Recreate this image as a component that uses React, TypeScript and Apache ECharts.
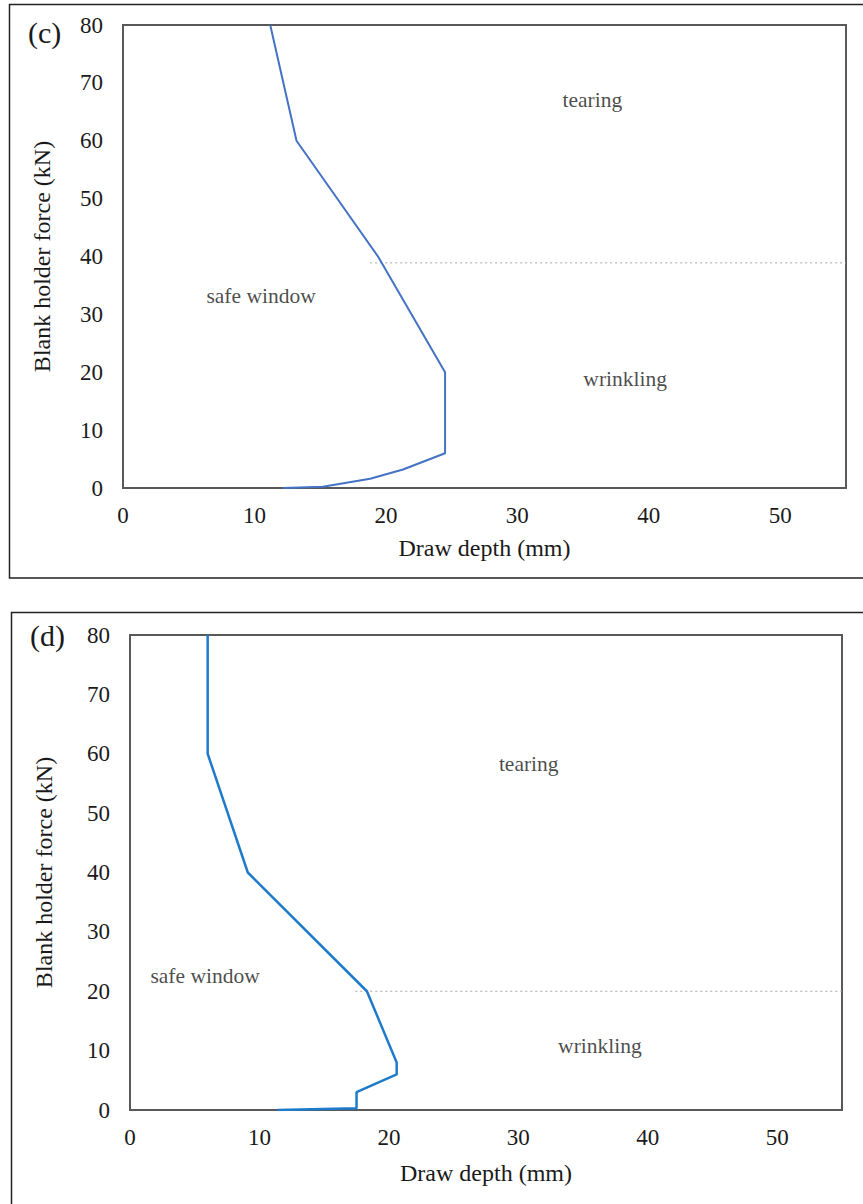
import React, { useEffect, useRef } from "react";
import * as echarts from "echarts";

// Panel (c)
const depthC = [11.2, 13.2, 19.4, 24.5, 24.5, 21.3, 18.8, 15.2, 12.2];
const forceC = [80, 60, 40, 20, 6, 3.2, 1.6, 0.2, 0];
const boundaryC = [[18.8, 38.9], [55, 38.9]];
const notesC = [
  { text: "tearing", x: 35.7, y: 67 },
  { text: "safe window", x: 10.5, y: 33.2 },
  { text: "wrinkling", x: 38.2, y: 18.8 },
];

// Panel (d)
const depthD = [6.0, 6.0, 9.1, 18.3, 20.6, 20.6, 17.5, 17.5, 11.4];
const forceD = [80, 60, 40, 20, 8, 6, 3, 0.3, 0];
const boundaryD = [[17.4, 20], [55, 20]];
const notesD = [
  { text: "tearing", x: 30.8, y: 58.2 },
  { text: "safe window", x: 5.8, y: 22.6 },
  { text: "wrinkling", x: 36.3, y: 10.8 },
];

const xTitle = "Draw depth (mm)";
const yTitle = "Blank holder force (kN)";

const FONT = "'Liberation Serif', 'Times New Roman', serif";
const TXT = "#1a1a1a";

export default function App() {
  const ref = useRef<HTMLDivElement>(null);
  useEffect(() => {
    if (!ref.current) return;
    const chart = echarts.init(ref.current, null, { renderer: "svg" });
    const pair = (xs: number[], ys: number[]) => xs.map((x, i) => [x, ys[i]]);
    const xAxis = (gi: number, gap: number) => ({
      type: "value",
      gridIndex: gi,
      min: 0,
      max: 55,
      interval: 10,
      name: xTitle,
      nameLocation: "middle",
      nameGap: gap,
      nameTextStyle: { fontFamily: FONT, fontSize: 24, color: TXT },
      axisLine: { show: true, lineStyle: { color: "#595959", width: 2 } },
      axisTick: { show: false },
      splitLine: { show: false },
      axisLabel: {
        fontFamily: FONT,
        fontSize: 23,
        color: TXT,
        margin: 16,
        formatter: (v: number) => (v > 50 ? "" : String(v)),
      },
    });
    const yAxis = (gi: number, gap: number) => ({
      type: "value",
      gridIndex: gi,
      min: 0,
      max: 80,
      interval: 10,
      name: yTitle,
      nameLocation: "middle",
      nameGap: gap,
      nameTextStyle: { fontFamily: FONT, fontSize: 24, color: TXT },
      axisLine: { show: true, lineStyle: { color: "#595959", width: 2 } },
      axisTick: { show: false },
      splitLine: { show: false },
      axisLabel: { fontFamily: FONT, fontSize: 23, color: TXT, margin: 20 },
    });
    const notes = (gi: number, arr: { text: string; x: number; y: number }[]) => ({
      type: "scatter",
      xAxisIndex: gi,
      yAxisIndex: gi,
      symbolSize: 1,
      itemStyle: { color: "rgba(0,0,0,0)" },
      silent: true,
      data: arr.map((n) => ({ value: [n.x, n.y], name: n.text })),
      label: {
        show: true,
        position: "inside",
        formatter: (p: any) => p.name,
        fontFamily: FONT,
        fontSize: 21.5,
        color: TXT,
      },
    });
    chart.setOption({
      animation: false,
      backgroundColor: "#fff",
      grid: [
        {
          left: 123, top: 25, width: 723, height: 463,
          show: true, borderColor: "#595959", borderWidth: 2, backgroundColor: "transparent",
        },
        {
          left: 130, top: 635, width: 712, height: 475,
          show: true, borderColor: "#595959", borderWidth: 2, backgroundColor: "transparent",
        },
      ],
      xAxis: [xAxis(0, 48), xAxis(1, 51)],
      yAxis: [yAxis(0, 69), yAxis(1, 74)],
      graphic: [
        {
          type: "rect",
          shape: { x: 9.5, y: 4.5, width: 900, height: 573.5 },
          style: { fill: "none", stroke: "#222", lineWidth: 1.5 },
          silent: true,
        },
        {
          type: "rect",
          shape: { x: 11.5, y: 612.5, width: 900, height: 700 },
          style: { fill: "none", stroke: "#222", lineWidth: 1.5 },
          silent: true,
        },
        {
          type: "text",
          left: 28,
          top: 17,
          style: { text: "(c)", fontFamily: FONT, fontSize: 30, fill: TXT },
        },
        {
          type: "text",
          left: 30,
          top: 620,
          style: { text: "(d)", fontFamily: FONT, fontSize: 30, fill: TXT },
        },
      ],
      series: [
        {
          type: "line",
          xAxisIndex: 0,
          yAxisIndex: 0,
          data: boundaryC,
          symbol: "none",
          silent: true,
          lineStyle: { color: "#a6a6a6", width: 1, type: [2, 3] },
        },
        {
          type: "line",
          xAxisIndex: 0,
          yAxisIndex: 0,
          data: pair(depthC, forceC),
          symbol: "none",
          lineStyle: { color: "#4472C4", width: 2 },
        },
        notes(0, notesC),
        {
          type: "line",
          xAxisIndex: 1,
          yAxisIndex: 1,
          data: boundaryD,
          symbol: "none",
          silent: true,
          lineStyle: { color: "#a6a6a6", width: 1, type: [2, 3] },
        },
        {
          type: "line",
          xAxisIndex: 1,
          yAxisIndex: 1,
          data: pair(depthD, forceD),
          symbol: "none",
          lineStyle: { color: "#1E7BCB", width: 2.5 },
        },
        notes(1, notesD),
      ],
    });
    return () => chart.dispose();
  }, []);
  return (
    <div
      ref={ref}
      style={{ position: "fixed", left: 0, top: 0, width: 863, height: 1204 }}
    />
  );
}
